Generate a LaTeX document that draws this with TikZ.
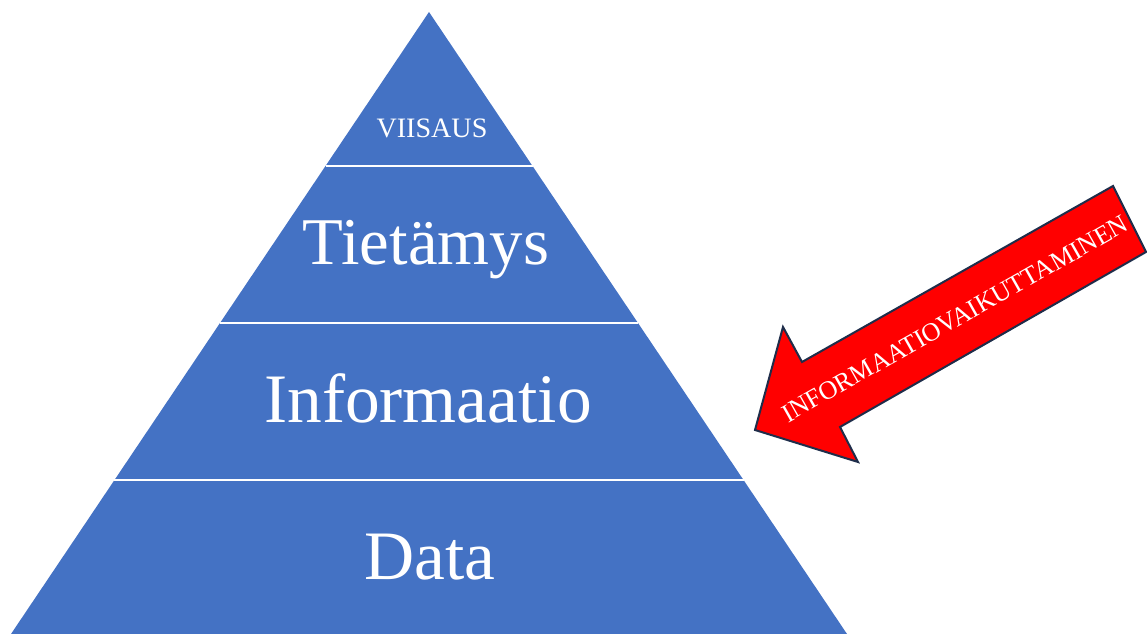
\documentclass[tikz,border=0pt]{standalone}
\usepackage{fontspec}
\setmainfont{Liberation Serif}
\usepackage{tikz}
\usetikzlibrary{calc}
\definecolor{pyrblue}{HTML}{4472C4}
\definecolor{arrowred}{HTML}{FF0000}
\definecolor{arrowedge}{HTML}{1F2D4A}

\begin{document}
\begin{tikzpicture}[x=0.02cm,y=-0.02cm,
  level/.style={text=white,anchor=base,font=\fontsize{39.5}{44}\selectfont},
  divider/.style={white,line width=0.04cm}]
\useasboundingbox (0,0) rectangle (1147,634);

% pyramid
\coordinate (apex) at (429,12);
\coordinate (bl) at (11,634);
\coordinate (br) at (847,634);
\fill[pyrblue] (apex) -- (bl) -- (br) -- cycle;

\draw[divider] ($(apex)!0.2476!(bl)$) -- ($(apex)!0.2476!(br)$);
\draw[divider] ($(apex)!0.5!(bl)$) -- ($(apex)!0.5!(br)$);
\draw[divider] ($(apex)!0.7524!(bl)$) -- ($(apex)!0.7524!(br)$);

\node[level,font=\fontsize{16}{18}\selectfont] (viisaus) at (432,138) {VIISAUS};
\node[level,font=\fontsize{38}{44}\selectfont] (tietamys) at (426,265) {Tietämys};
\node[level] (informaatio) at (428,423) {Informaatio};
\node[level] (data) at (430,580) {Data};

% arrow
\draw[arrowedge,fill=arrowred,line width=0.04cm,line join=miter]
  (1113,186) -- (1146,252) -- (840,427) -- (858,462) -- (755,430)
  -- (783,327) -- (802,362) -- cycle;
\node[text=white,rotate=29.5,font=\fontsize{14.8}{17}\selectfont] (vaikuttaminen) at (955,319) {INFORMAATIOVAIKUTTAMINEN};
\end{tikzpicture}
\end{document}
